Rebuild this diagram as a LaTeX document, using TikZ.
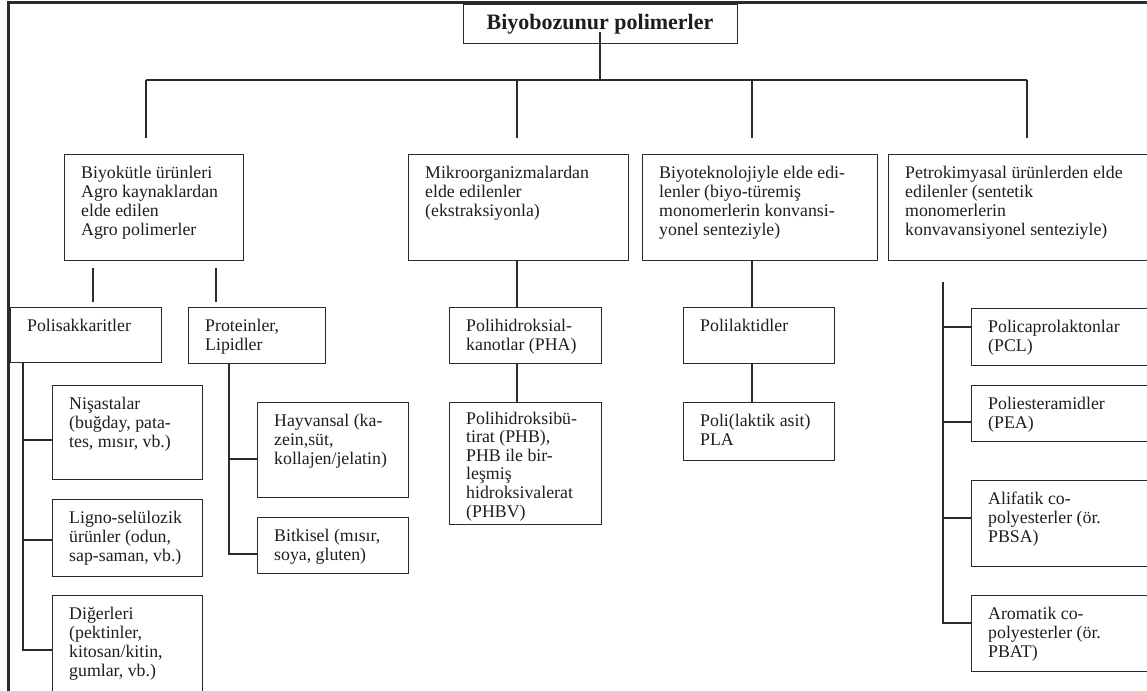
\documentclass[tikz,border=0pt]{standalone}
\usepackage{fontspec}
\setmainfont{Liberation Serif}
\usetikzlibrary{calc}
\definecolor{linec}{HTML}{2B2B2B}
\definecolor{txtc}{HTML}{1E1E1E}
\tikzset{
  bx/.style={draw=linec, line width=1.3pt, inner sep=0pt, anchor=north west},
  tx/.style={anchor=base west, inner sep=0pt, text=txtc, font=\fontsize{17.8}{19}\selectfont},
  ln/.style={draw=linec, line width=1.3pt},
  frame/.style={draw=linec, line width=3pt},
}
\newcommand\mybox[6]{%
  \node[bx, minimum width=#4pt, minimum height=#5pt] (#1) at (#2,#3) {};
  \node[tx] (#1t) at ($(#1.north west)+(17,24)$) {\parbox[t]{400pt}{#6}};
}
\begin{document}
\begin{tikzpicture}[x=1pt,y=-1pt]
\useasboundingbox (0,0) rectangle (1147,690);
\clip (0,0) rectangle (1147,690);
\fill[white] (0,0) rectangle (1147,690);
% frame
\draw[frame] (8.7,695) -- (8.7,2.5) -- (1150,2.5);
% title
\node[bx, minimum width=274pt, minimum height=39pt] (top) at (463,4) {};
\node[text=txtc, font=\bfseries\fontsize{22}{24}\selectfont, inner sep=0pt] (topt) at (600,24) {Biyobozunur polimerler};
% level 1
\mybox{A}{64}{154}{179}{106}{Biyokütle ürünleri\\Agro kaynaklardan\\elde edilen\\Agro polimerler}
\mybox{B}{408}{154}{220}{106}{Mikroorganizmalardan\\elde edilenler\\(ekstraksiyonla)}
\mybox{C}{642}{154}{235}{106}{Biyoteknolojiyle elde edi-\\lenler (biyo-türemiş\\monomerlerin konvansi-\\yonel senteziyle)}
\mybox{D}{888}{154}{290}{106}{Petrokimyasal ürünlerden elde\\edilenler (sentetik\\monomerlerin\\konvavansiyonel senteziyle)}
% level 2
\mybox{pol}{10}{307}{151}{55}{Polisakkaritler}
\mybox{pro}{188}{307}{137}{56}{Proteinler,\\Lipidler}
\mybox{nis}{52}{385}{150}{94}{Nişastalar\\(buğday, pata-\\tes, mısır, vb.)}
\mybox{lig}{52}{499}{150}{77}{Ligno-selülozik\\ürünler (odun,\\sap-saman, vb.)}
\mybox{dig}{52}{595}{150}{110}{Diğerleri\\(pektinler,\\kitosan/kitin,\\gumlar, vb.)}
\mybox{hay}{257}{402}{151}{95}{Hayvansal (ka-\\zein,süt,\\kollajen/jelatin)}
\mybox{bit}{257}{517}{151}{56}{Bitkisel (mısır,\\soya, gluten)}
\mybox{pha}{449}{307}{152}{56}{Polihidroksial-\\kanotlar (PHA)}
\node[bx, minimum width=152pt, minimum height=122pt] (phb) at (449,402) {};
\node[tx, font=\fontsize{17.8}{18.6}\selectfont] (phbt) at ($(phb.north west)+(17,22)$) {\parbox[t]{400pt}{Polihidroksibü-\\tirat (PHB),\\PHB ile bir-\\leşmiş\\hidroksivalerat\\(PHBV)}};
\mybox{pli}{683}{307}{151}{56}{Polilaktidler}
\mybox{pla}{683}{402}{151}{58}{Poli(laktik asit)\\PLA}
\mybox{pcl}{971}{308}{200}{57}{Policaprolaktonlar\\(PCL)}
\mybox{pea}{971}{385}{200}{56}{Poliesteramidler\\(PEA)}
\mybox{ali}{971}{480}{200}{86}{Alifatik co-\\polyesterler (ör.\\PBSA)}
\mybox{aro}{971}{595}{200}{76}{Aromatik co-\\polyesterler (ör.\\PBAT)}
% coordinates
\coordinate (bus) at (600,80);
\coordinate (tb) at (600,32);
\coordinate (dA) at (146,138);
\coordinate (dB) at (517,138);
\coordinate (dC) at (752,138);
\coordinate (dD) at (1027,138);
\coordinate (xpol) at (93,302);
\coordinate (xpro) at (216,302);
\coordinate (xB) at (517,0);
\coordinate (xC) at (752,0);
\coordinate (vpol) at (23,650);
\coordinate (vpro) at (229,554);
\coordinate (vD) at (943,623);
% title to bus
\draw[ln] (tb) -- (bus);
\draw[ln] (dA |- bus) -- (dD |- bus);
\foreach \d in {dA,dB,dC,dD} \draw[ln] (\d |- bus) -- (\d);
% A children
\draw[ln] (xpol |- 0,268) -- (xpol);
\draw[ln] (xpro |- 0,268) -- (xpro);
% B / C chains
\draw[ln] (B.south -| xB) -- (pha.north -| xB);
\draw[ln] (pha.south -| xB) -- (phb.north -| xB);
\draw[ln] (C.south -| xC) -- (pli.north -| xC);
\draw[ln] (pli.south -| xC) -- (pla.north -| xC);
% Polisakkaritler
\draw[ln] (pol.south -| vpol) -- (vpol) -- (vpol -| dig.west);
\draw[ln] (vpol |- 0,440) -- (nis.west |- 0,440);
\draw[ln] (vpol |- 0,540) -- (lig.west |- 0,540);
% Proteinler
\draw[ln] (pro.south -| vpro) -- (vpro) -- (vpro -| bit.west);
\draw[ln] (vpro |- 0,459) -- (hay.west |- 0,459);
% D column
\draw[ln] (vD |- 0,282) -- (vD) -- (vD -| aro.west);
\draw[ln] (vD |- 0,327) -- (pcl.west |- 0,327);
\draw[ln] (vD |- 0,422) -- (pea.west |- 0,422);
\draw[ln] (vD |- 0,518) -- (ali.west |- 0,518);
\end{tikzpicture}
\end{document}
